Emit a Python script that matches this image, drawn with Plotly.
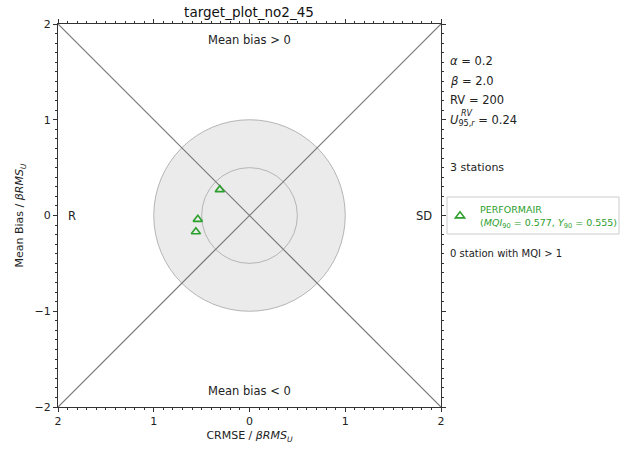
import plotly.graph_objects as go

# Station scores (normalised CRMSE on x, normalised mean bias on y)
station_crmse = [-0.31, -0.54, -0.56]
station_bias = [0.27, -0.04, -0.17]
station_group = "PERFORMAIR"
mqi90 = 0.577
y90 = 0.555

x_tick_vals = [-2, -1, 0, 1, 2]
x_tick_text = ["2", "1", "0", "1", "2"]
y_tick_vals = [-2, -1, 0, 1, 2]
y_tick_text = ["\u22122", "\u22121", "0", "1", "2"]

font_family = "DejaVu Sans"
green = "#2ca02c"

W, H = 635, 452
L, R, T, B = 58, 194, 24, 45
pw, ph = W - L - R, H - T - B


def px_x(x):
    return (x - L) / pw


def px_y(y):
    return (H - B - y) / ph


fig = go.Figure()

# Target circles
fig.add_shape(type="circle", x0=-1, y0=-1, x1=1, y1=1,
              fillcolor="#ebebeb", line=dict(color="#b5b5b5", width=1), layer="below")
fig.add_shape(type="circle", x0=-0.5, y0=-0.5, x1=0.5, y1=0.5,
              fillcolor="rgba(0,0,0,0)", line=dict(color="#b5b5b5", width=1), layer="below")

# Legend frame
fig.add_shape(type="rect", xref="paper", yref="paper",
              x0=px_x(447), x1=px_x(619), y0=px_y(234), y1=px_y(197),
              line=dict(color="#cccccc", width=1), fillcolor="white", layer="below")

# Diagonals
fig.add_trace(go.Scatter(x=[-2, 2], y=[-2, 2], mode="lines",
                         line=dict(color="#777777", width=1.2), showlegend=False, hoverinfo="skip"))
fig.add_trace(go.Scatter(x=[-2, 2], y=[2, -2], mode="lines",
                         line=dict(color="#777777", width=1.2), showlegend=False, hoverinfo="skip"))

# Stations
fig.add_trace(go.Scatter(
    x=station_crmse, y=station_bias, mode="markers",
    marker=dict(symbol="triangle-up-open", size=8, color=green, line=dict(width=1.6, color=green)),
    name=f"{station_group}<br>(<i>MQI</i><sub>90</sub> = {mqi90}, <i>Y</i><sub>90</sub> = {y90})",
    showlegend=True,
))

annots = [
    dict(x=0, y=1.83, text="Mean bias > 0", xref="x", yref="y"),
    dict(x=0, y=-1.83, text="Mean bias < 0", xref="x", yref="y"),
    dict(x=-1.85, y=0, text="R", xref="x", yref="y"),
    dict(x=1.82, y=0, text="SD", xref="x", yref="y"),
]
for a in annots:
    fig.add_annotation(**a, showarrow=False, font=dict(family=font_family, size=11.5, color="#222"))

side_text = [
    (61, "<i>\u03b1</i> = 0.2", 11.5),
    (81, "<i>\u03b2</i> = 2.0", 11.5),
    (100, "RV = 200", 11.5),
    (120, "<i>U</i><sub>95,<i>r</i></sub> = 0.24", 11.5),
    (167, "3 stations", 11),
    (253, "0 station with MQI > 1", 10),
]
for ypix, txt, fs in side_text:
    fig.add_annotation(x=px_x(448), y=px_y(ypix), xref="paper", yref="paper", text=txt,
                       showarrow=False, xanchor="left", yanchor="middle",
                       font=dict(family=font_family, size=fs, color="#222"))
# superscript of U placed above its subscript
fig.add_annotation(x=px_x(459), y=px_y(114), xref="paper", yref="paper", text="<i>RV</i>",
                   showarrow=False, xanchor="left", yanchor="middle",
                   font=dict(family=font_family, size=8, color="#222"))

fig.update_layout(
    width=W, height=H,
    margin=dict(l=L, r=R, t=T, b=B, autoexpand=False),
    paper_bgcolor="white", plot_bgcolor="white",
    font=dict(family=font_family, size=11, color="#222"),
    title=dict(text="target_plot_no2_45", x=249 / W, xanchor="center",
               y=1 - 12 / H, yanchor="middle", font=dict(size=13.5, color="#111")),
    legend=dict(x=px_x(440), y=px_y(197), xanchor="left", yanchor="top",
                borderwidth=0, bgcolor="rgba(0,0,0,0)",
                font=dict(family=font_family, size=9.5, color=green)),
    showlegend=True,
)
fig.update_xaxes(range=[-2, 2], tickvals=x_tick_vals, ticktext=x_tick_text,
                 showgrid=False, zeroline=False, showline=True, linecolor="#333", linewidth=1,
                 mirror="ticks", ticks="outside", ticklen=4, tickcolor="#333",
                 minor=dict(dtick=0.1, ticks="outside", ticklen=2, tickcolor="#333"),
                 title=dict(text="CRMSE / <i>\u03b2RMS</i><sub><i>U</i></sub>", standoff=4,
                            font=dict(size=11)),
                 tickfont=dict(size=11))
fig.update_yaxes(range=[-2, 2], tickvals=y_tick_vals, ticktext=y_tick_text,
                 showgrid=False, zeroline=False, showline=True, linecolor="#333", linewidth=1,
                 mirror="ticks", ticks="outside", ticklen=4, tickcolor="#333",
                 minor=dict(dtick=0.1, ticks="outside", ticklen=2, tickcolor="#333"),
                 title=dict(text="Mean Bias / <i>\u03b2RMS</i><sub><i>U</i></sub>", standoff=8,
                            font=dict(size=11)),
                 tickfont=dict(size=11))

fig.write_html("out.html")
